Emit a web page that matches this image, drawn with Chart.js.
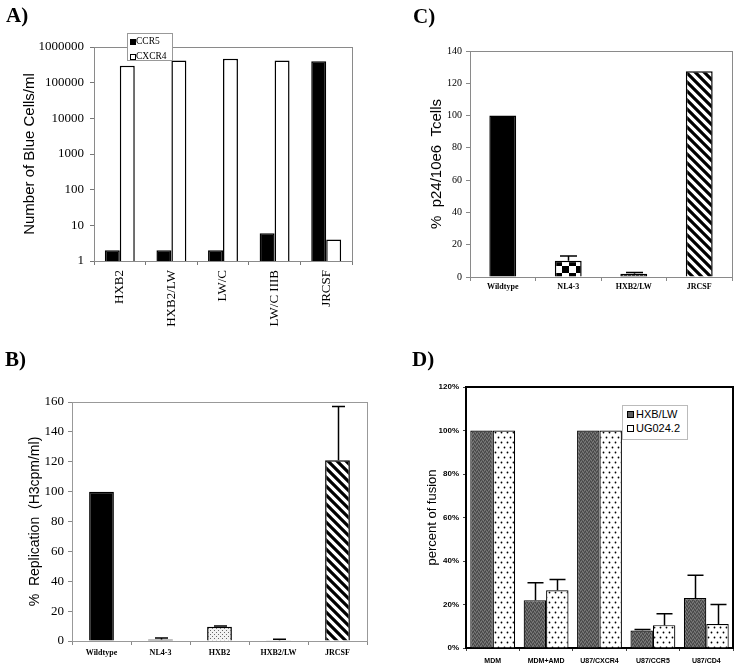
<!DOCTYPE html>
<html><head><meta charset="utf-8">
<script src="https://cdn.jsdelivr.net/npm/chart.js@4.4.0/dist/chart.umd.min.js"></script>
<style>
html,body{margin:0;padding:0;background:#fff;}
body{width:740px;height:671px;position:relative;overflow:hidden;}
canvas{position:absolute;}
.lab{position:absolute;font:bold 21px "Liberation Serif","Times New Roman",serif;line-height:1;color:#000;}
.leg{position:absolute;background:#fff;box-sizing:border-box;}
.leg .it{position:absolute;white-space:nowrap;}
.leg .sq{position:absolute;box-sizing:border-box;border:1px solid #000;}
</style></head><body>
<canvas id="cA" width="370" height="335" style="left:0;top:0"></canvas>
<canvas id="cC" width="360" height="300" style="left:380px;top:0"></canvas>
<canvas id="cB" width="380" height="331" style="left:0;top:340px"></canvas>
<canvas id="cD" width="360" height="331" style="left:380px;top:340px"></canvas>
<div class="lab" style="left:6px;top:5px">A)</div>
<div class="lab" style="left:413px;top:6px">C)</div>
<div class="lab" style="left:5px;top:349px">B)</div>
<div class="lab" style="left:412px;top:349px">D)</div>
<div id="legA" class="leg" style="left:127px;top:33px;width:46px;height:28px;border:1px solid #999;font:9.5px 'Liberation Serif',serif;"></div>
<div id="legD" class="leg" style="left:622px;top:405px;width:66px;height:35px;border:1px solid #bbb;font:11px 'Liberation Sans',Arial,sans-serif;"></div>
<script>
// ---------- DATA ----------
const aCategories = ['HXB2','HXB2/LW','LW/C','LW/C IIIB','JRCSF'];
const aSeries = ['CCR5','CXCR4'];
const aCCR5 = [2,2,2,6,400000];
const aCXCR4 = [300000,420000,470000,420000,4];
const aTicks = [1,10,100,1000,10000,100000,1000000];

const bCategories = ['Wildtype','NL4-3','HXB2','HXB2/LW','JRCSF'];
const bValues = [100,1,9.5,0.5,121];
const bErrors = [0,1,0.6,0.6,36];
const bTicks = [0,20,40,60,80,100,120,140,160];

const cCategories = ['Wildtype','NL4-3','HXB2/LW','JRCSF'];
const cValues = [100,10,2,127.5];
const cErrors = [0,3,0.8,0];
const cTicks = [0,20,40,60,80,100,120,140];

const dCategories = ['MDM','MDM+AMD','U87/CXCR4','U87/CCR5','U87/CD4'];
const dSeries = ['HXB/LW','UG024.2'];
const dHXB = [100,22,100,8,23];
const dHXBErr = [0,8,0,0.5,10.5];
const dUG = [100,26.5,100,10.5,11];
const dUGErr = [0,5,0,5.3,9];
const dTicks = [0,20,40,60,80,100,120];

// ---------- STYLES ----------
Chart.defaults.animation = false;
Chart.defaults.color = '#000';
Chart.defaults.plugins.legend.display = false;
Chart.defaults.plugins.tooltip.enabled = false;
const SERIF = '"Liberation Serif","Times New Roman",serif';
const SANS = '"Liberation Sans",Arial,sans-serif';

function mk(w,h,draw){const c=document.createElement('canvas');c.width=w;c.height=h;const x=c.getContext('2d');draw(x,w,h);return x.createPattern(c,'repeat');}
const stripes = mk(9,9,(x,w,h)=>{x.fillStyle='#fff';x.fillRect(0,0,w,h);x.strokeStyle='#000';x.lineWidth=3.2;x.beginPath();
  for(let k=-1;k<=1;k++){x.moveTo(k*w-2,-2);x.lineTo(k*w+w+2,h+2);} x.stroke();});
const checker = mk(14,14,(x)=>{x.fillStyle='#fff';x.fillRect(0,0,14,14);x.fillStyle='#000';x.fillRect(0,0,7,7);x.fillRect(7,7,7,7);});
const stipple = mk(4,4,(x)=>{x.fillStyle='#f2f2f2';x.fillRect(0,0,4,4);x.fillStyle='#6a6a6a';x.fillRect(0,0,1,1);x.fillRect(2,2,1,1);});
const darkDots = mk(4,4,(x)=>{x.fillStyle='#1a1a1a';x.fillRect(0,0,4,4);x.fillStyle='#9a9a9a';x.fillRect(1,1,1,1);x.fillRect(3,3,1,1);});
const grayTex = mk(4,4,(x)=>{x.fillStyle='#5e5e5e';x.fillRect(0,0,4,4);x.fillStyle='#444';x.fillRect(0,0,1,1);x.fillRect(2,1,1,1);x.fillRect(1,3,1,1);x.fillRect(3,2,1,1);x.fillStyle='#7c7c7c';x.fillRect(1,1,1,1);x.fillRect(3,0,1,1);x.fillRect(0,2,1,1);x.fillRect(2,3,1,1);});
const dots = mk(6,10,(x)=>{x.fillStyle='#fff';x.fillRect(0,0,6,10);x.fillStyle='#000';x.beginPath();x.arc(1.5,2.5,0.9,0,Math.PI*2);x.arc(4.5,7.5,0.9,0,Math.PI*2);x.fill();});

const framePlugin = {id:'frame',
  beforeDatasetsDraw(chart,args,opts){const {ctx,chartArea:a}=chart;const w=opts.width||1;
    ctx.save();ctx.strokeStyle=opts.color||'#888';ctx.lineWidth=w;const o=(w%2)?0.5:0;
    ctx.strokeRect(Math.round(a.left)+o,Math.round(a.top)+o,Math.round(a.right-a.left),Math.round(a.bottom-a.top));ctx.restore();}};
const errPlugin = {id:'errbars',
  afterDatasetsDraw(chart,args,opts){const {ctx}=chart;
    chart.data.datasets.forEach((ds,i)=>{if(!ds.errors)return;const meta=chart.getDatasetMeta(i);const ys=chart.scales[meta.yAxisID];
      meta.data.forEach((bar,j)=>{const e=ds.errors[j];if(!e)return;const top=ys.getPixelForValue(ds.data[j]+e);
        const x=Math.round(bar.x)+0.5;const cw=opts.cap||12;
        ctx.save();ctx.strokeStyle='#000';ctx.lineWidth=opts.width||1.5;ctx.beginPath();
        ctx.moveTo(x,bar.y);ctx.lineTo(x,top);ctx.moveTo(x-cw/2,top);ctx.lineTo(x+cw/2,top);ctx.stroke();ctx.restore();});});}};

function yAxis(o){return {type:o.type||'linear',min:o.min,max:o.max,
  afterBuildTicks(s){s.ticks=o.ticks.map(v=>({value:v}));},
  ticks:{font:o.font,padding:o.pad,color:'#000',callback:o.cb||(v=>String(v)),autoSkip:false},
  grid:{display:true,drawOnChartArea:false,drawTicks:true,tickLength:o.tick,color:o.tc,lineWidth:1},
  border:{display:false},
  title:{display:true,text:o.title,font:o.tfont,color:'#000',padding:{top:o.tp,bottom:0}},
  afterFit(s){s.width=o.w;}};}
function xAxis(o){return {type:'category',
  ticks:{font:o.font,padding:o.pad,color:'#000',autoSkip:false,minRotation:o.rot||0,maxRotation:o.rot||0},
  grid:{display:true,drawOnChartArea:false,drawTicks:true,tickLength:o.tick,color:o.tc,offset:true},
  border:{display:false},
  afterFit(s){s.height=o.h;}};}

// ---------- A ----------
new Chart(document.getElementById('cA'),{type:'bar',
  data:{labels:aCategories,datasets:[
    {label:aSeries[0],data:aCCR5,backgroundColor:'#000',borderColor:'#000',borderWidth:1.5},
    {label:aSeries[1],data:aCXCR4,backgroundColor:'#fff',borderColor:'#000',borderWidth:1.5}]},
  options:{responsive:false,layout:{padding:{left:0,right:18,top:47,bottom:0}},
    datasets:{bar:{categoryPercentage:0.58,barPercentage:1}},
    plugins:{frame:{color:'#8a8a8a',width:1}},
    scales:{
      x:xAxis({font:{family:SERIF,size:13},pad:5,tick:4,tc:'#777',h:74,rot:90}),
      y:yAxis({type:'logarithmic',min:1,max:1000000,ticks:aTicks,font:{family:SERIF,size:13},pad:6,tick:4,tc:'#777',
        title:'Number of Blue Cells/ml',tfont:{family:SANS,size:15},tp:21,w:94})}},
  plugins:[framePlugin]});

// ---------- B ----------
new Chart(document.getElementById('cB'),{type:'bar',
  data:{labels:bCategories,datasets:[{label:'% Replication',data:bValues,errors:bErrors,
    backgroundColor:['#000','#000',stipple,'#000',stripes],borderColor:'#000',borderWidth:1.5}]},
  options:{responsive:false,layout:{padding:{left:0,right:13,top:62,bottom:0}},
    datasets:{bar:{categoryPercentage:1,barPercentage:0.42}},
    plugins:{frame:{color:'#999',width:1},errbars:{cap:13,width:1.5}},
    scales:{
      x:xAxis({font:{family:SERIF,size:8,weight:'bold'},pad:3,tick:4,tc:'#888',h:30}),
      y:yAxis({min:0,max:160,ticks:bTicks,font:{family:SERIF,size:13},pad:4,tick:4,tc:'#888',
        title:'%  Replication  (H3cpm/ml)',tfont:{family:SANS,size:14},tp:27,w:72})}},
  plugins:[framePlugin,errPlugin]});

// ---------- C ----------
new Chart(document.getElementById('cC'),{type:'bar',
  data:{labels:cCategories,datasets:[{label:'% p24',data:cValues,errors:cErrors,
    backgroundColor:['#000',checker,darkDots,stripes],borderColor:'#000',borderWidth:1.5}]},
  options:{responsive:false,layout:{padding:{left:0,right:8,top:51,bottom:0}},
    datasets:{bar:{categoryPercentage:1,barPercentage:0.41}},
    plugins:{frame:{color:'#8a8a8a',width:1},errbars:{cap:17,width:1.5}},
    scales:{
      x:xAxis({font:{family:SERIF,size:8,weight:'bold'},pad:1,tick:4,tc:'#888',h:23}),
      y:yAxis({min:0,max:140,ticks:cTicks,font:{family:SERIF,size:10},pad:4,tick:4,tc:'#888',
        title:'%  p24/10e6  Tcells',tfont:{family:SANS,size:15},tp:48,w:90})}},
  plugins:[framePlugin,errPlugin]});

// ---------- D ----------
new Chart(document.getElementById('cD'),{type:'bar',
  data:{labels:dCategories,datasets:[
    {label:dSeries[0],data:dHXB,errors:dHXBErr,backgroundColor:grayTex,borderColor:'#000',borderWidth:1.2},
    {label:dSeries[1],data:dUG,errors:dUGErr,backgroundColor:dots,borderColor:'#000',borderWidth:1.2}]},
  options:{responsive:false,layout:{padding:{left:0,right:7,top:47,bottom:0}},
    datasets:{bar:{categoryPercentage:0.84,barPercentage:1}},
    plugins:{frame:{color:'#000',width:2},errbars:{cap:16,width:1.5}},
    scales:{
      x:xAxis({font:{family:SANS,size:7,weight:'bold'},pad:6,tick:3,tc:'#444',h:23}),
      y:yAxis({min:0,max:120,ticks:dTicks,font:{family:SANS,size:8,weight:'bold'},pad:4,tick:3,tc:'#444',cb:v=>v+'%',
        title:'percent of fusion',tfont:{family:SANS,size:13},tp:45,w:86})}},
  plugins:[framePlugin,errPlugin]});

// ---------- legends (HTML) ----------
function patCss(p){return p;}
const legA=document.getElementById('legA');
aSeries.forEach((name,i)=>{
  const sq=document.createElement('div');sq.className='sq';
  sq.style.cssText='left:2px;top:'+(5+i*14.5)+'px;width:6px;height:6px;background:'+(i===0?'#000':'#fff');
  legA.appendChild(sq);
  const t=document.createElement('div');t.className='it';t.textContent=name;
  t.style.cssText='left:8px;top:'+(1+i*14.5)+'px;line-height:12px;';legA.appendChild(t);});
const legD=document.getElementById('legD');
dSeries.forEach((name,i)=>{
  const sq=document.createElement('div');sq.className='sq';
  sq.style.cssText='left:4px;top:'+(5+i*14)+'px;width:7px;height:7px;background:'+(i===0?'#5e5e5e':'#fff');
  legD.appendChild(sq);
  const t=document.createElement('div');t.className='it';t.textContent=name;
  t.style.cssText='left:13px;top:'+(2+i*14)+'px;line-height:13px;';legD.appendChild(t);});
</script>
</body></html>
